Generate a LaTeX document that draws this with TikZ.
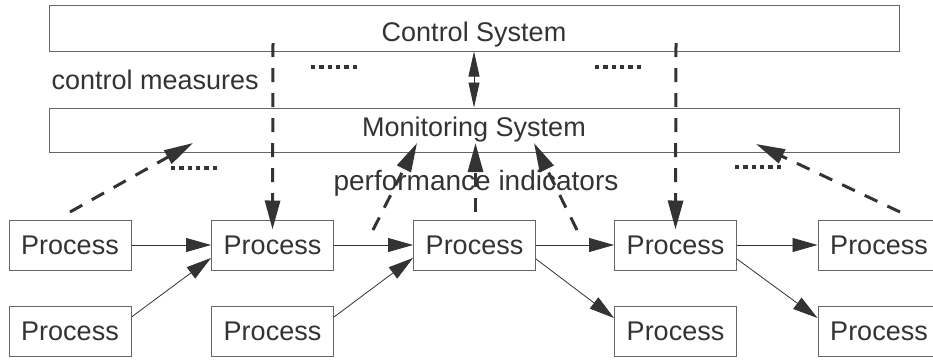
\documentclass[tikz,border=0pt]{standalone}
\usepackage{fontspec}
\setmainfont{Liberation Sans}
\usetikzlibrary{arrows.meta}
\definecolor{ink}{HTML}{333333}
\definecolor{frame}{HTML}{666666}
\begin{document}
\begin{tikzpicture}[x=1pt,y=-1pt,
  every node/.style={font=\fontsize{27}{32}\selectfont, text=ink},
  sysbox/.style={draw=frame, line width=1pt, minimum width=850pt, inner sep=0pt},
  procbox/.style={draw=frame, line width=1pt, minimum width=122pt, minimum height=50pt, inner sep=0pt},
  flow/.style={draw=ink, line width=0.8pt, -{Triangle[length=25pt,width=14pt]}},
  twoway/.style={draw=ink, line width=0.8pt, {Triangle[length=25pt,width=11pt]}-{Triangle[length=25pt,width=11pt]}},
  feed/.style={draw=ink, line width=3pt, dash pattern=on 14pt off 11pt, -{Triangle[length=29pt,width=15pt]}},
  dots/.style={draw=ink, line width=4.5pt, dash pattern=on 4.3pt off 4pt},
]
\useasboundingbox (0,0) rectangle (933,360);

% systems
\node[sysbox, minimum height=46pt, text height=32pt, text depth=6pt] (ctrl) at (474,28) {Control System};
\node[sysbox, minimum height=44pt] (mon) at (474,130) {Monitoring System};

% processes
\node[procbox] (p11) at (70,245) {Process};
\node[procbox] (p12) at (272.5,245) {Process};
\node[procbox] (p13) at (474.5,245) {Process};
\node[procbox] (p14) at (675.5,245) {Process};
\node[procbox] (p15) at (879,245) {Process};
\node[procbox] (p21) at (70,331) {Process};
\node[procbox] (p22) at (272.5,331) {Process};
\node[procbox] (p24) at (675.5,331) {Process};
\node[procbox] (p25) at (879,331) {Process};

% labels
\node[anchor=base west] (cm) at (48,89) {control measures};
\node[anchor=base, font=\fontsize{28}{33}\selectfont] (pi) at (476,190) {performance indicators};

% process flows
\draw[flow] (p11.east) -- (p12.west);
\draw[flow] (p12.east) -- (p13.west);
\draw[flow] (p13.east) -- (p14.west);
\draw[flow] (p14.east) -- (p15.west);
\draw[flow] ([yshift=14pt]p21.east) -- ([yshift=-13pt]p12.west);
\draw[flow] ([yshift=14pt]p22.east) -- ([yshift=-13pt]p13.west);
\draw[flow] ([yshift=-14pt]p13.east) -- ([yshift=13pt]p24.west);
\draw[flow] ([yshift=-14pt]p14.east) -- ([yshift=13pt]p25.west);

% control <-> monitoring
\draw[twoway] (ctrl.south) -- (mon.north);

% control measures
\coordinate (cA) at (273,43);
\coordinate (cB) at (676,43);
\draw[feed] (cA) -- ([yshift=-10pt]p12.north);
\draw[feed] (cB) -- ([yshift=-10pt]p14.north);

% performance indicators
\coordinate (s1) at (70,212);  \coordinate (t1) at (193,143);
\coordinate (s2) at (373,230); \coordinate (t2) at (417,143);
\coordinate (s3) at (475.5,212); \coordinate (t3) at (475.5,143);
\coordinate (s4) at (577,230); \coordinate (t4) at (534,143);
\coordinate (s5) at (900,212); \coordinate (t5) at (756,144);
\draw[feed] (s1) -- (t1);
\draw[feed] (s2) -- (t2);
\draw[feed] (s3) -- (t3);
\draw[feed] (s4) -- (t4);
\draw[feed] (s5) -- (t5);

% ellipsis marks
\draw[dots] (311,67) -- (357,67);
\draw[dots] (595,67) -- (642,67);
\draw[dots] (171,168) -- (217,168);
\draw[dots] (735,167) -- (782,167);
\end{tikzpicture}
\end{document}
